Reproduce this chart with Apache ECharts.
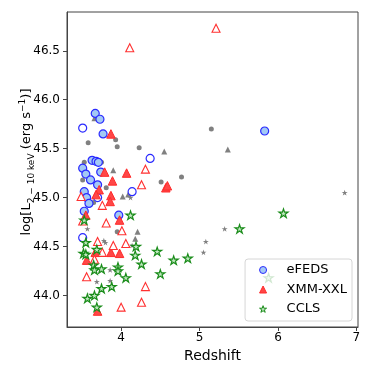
<!DOCTYPE html>
<html>
<head>
<meta charset="utf-8">
<script src="https://cdn.jsdelivr.net/npm/echarts@6/dist/echarts.min.js"></script>
<style>
  html, body { margin: 0; padding: 0; background: #fff; }
  #chart { width: 374px; height: 374px; }
</style>
</head>
<body>
<div id="chart"></div>
<script>
// [redshift, log L(2-10 keV)]
var efedsFilled = [
  [3.67, 45.86], [3.73, 45.80], [3.77, 45.65], [3.63, 45.38], [3.68, 45.37], [3.71, 45.36],
  [3.51, 45.30], [3.55, 45.24], [3.61, 45.18], [3.74, 45.26], [3.70, 45.13], [3.53, 45.06],
  [3.56, 45.00], [3.59, 44.94], [3.53, 44.86], [3.97, 44.82], [5.83, 45.68]
]
var efedsOpen = [
  [3.51, 45.71], [4.37, 45.40], [3.70, 45.00], [3.51, 44.59], [4.14, 45.06]
]
var xxlFilled = [
  [3.87, 45.65], [3.79, 45.26], [4.07, 45.25], [3.89, 45.17], [4.57, 45.10], [4.59, 45.12],
  [3.72, 45.08], [3.68, 45.03], [3.87, 45.02], [3.86, 44.96], [3.55, 44.82], [3.98, 44.77],
  [3.67, 44.44], [3.87, 44.44], [3.98, 44.43], [3.56, 44.36], [3.70, 43.84]
]
var xxlOpen = [
  [4.11, 46.53], [5.21, 46.73], [4.31, 45.29], [4.26, 45.13], [3.76, 44.92], [3.51, 44.76],
  [3.81, 44.74], [4.01, 44.66], [3.70, 44.55], [3.90, 44.51], [4.06, 44.53], [3.76, 44.44],
  [3.66, 44.37], [3.56, 44.19], [4.31, 44.09], [4.26, 43.93], [4.00, 43.88], [3.49, 45.01]
]
var cclsStars = [
  [3.53, 44.77], [4.12, 44.82], [3.55, 44.54], [4.19, 44.50], [3.52, 44.43], [3.55, 44.42],
  [3.69, 44.47], [4.18, 44.41], [4.46, 44.45], [3.65, 44.31], [3.66, 44.26], [3.75, 44.27],
  [3.96, 44.29], [3.96, 44.25], [4.26, 44.32], [4.06, 44.18], [4.50, 44.22], [4.67, 44.36],
  [4.85, 44.38], [3.75, 44.07], [3.88, 44.09], [3.57, 43.97], [3.66, 44.00], [3.69, 43.88],
  [5.51, 44.68], [6.07, 44.84], [5.88, 44.18]
]
var grayCircles = [
  [3.58, 45.56], [3.93, 45.59], [3.95, 45.52], [4.23, 45.51], [3.53, 45.36], [3.75, 45.36],
  [3.51, 45.18], [3.81, 45.10], [4.51, 45.16], [4.77, 45.21], [5.15, 45.70], [3.65, 44.95],
  [3.95, 44.65]
]
var grayTriangles = [
  [3.66, 45.81], [3.90, 45.28], [4.55, 45.47], [5.36, 45.49], [4.02, 45.01], [4.09, 45.03],
  [4.21, 44.65], [4.18, 44.58]
]
var grayStars = [
  [4.12, 45.00], [3.57, 44.68], [3.78, 44.56], [3.80, 44.54], [4.14, 44.51], [3.86, 44.26],
  [3.69, 44.14], [3.86, 44.15], [5.08, 44.55], [5.05, 44.44], [5.32, 44.68], [6.85, 45.05]
]
var xTicks = [4, 5, 6, 7]
var yTicks = [44.0, 44.5, 45.0, 45.5, 46.0, 46.5]

var FONT = 'DejaVu Sans'
var star = 'path://M100,0L122.45,69.1L195.1,69.1L136.3,111.8L158.8,180.9L100,138.2L41.2,180.9L63.7,111.8L4.9,69.1L77.55,69.1Z'

function scatter (name, data, symbol, size, fill, stroke, bw) {
  return {
    name: name,
    type: 'scatter',
    data: data,
    symbol: symbol,
    symbolSize: size,
    symbolKeepAspect: true,
    itemStyle: { color: fill, borderColor: stroke, borderWidth: bw, opacity: 1 },
    emphasis: { disabled: true },
    silent: true
  }
}

var chart = echarts.init(document.getElementById('chart'), null, { renderer: 'canvas' })
chart.setOption({
  animation: false,
  backgroundColor: '#fff',
  textStyle: { fontFamily: FONT },
  grid: { left: 67, right: 16, top: 12, bottom: 47, show: true, borderColor: '#444', borderWidth: 1 },
  xAxis: {
    type: 'value',
    min: 3.31,
    max: 7.02,
    name: 'Redshift',
    nameLocation: 'middle',
    nameGap: 19,
    nameTextStyle: { fontFamily: FONT, fontSize: 14, color: '#000', verticalAlign: 'top' },
    axisLine: { show: true, lineStyle: { color: '#444', width: 1 } },
    axisTick: { show: true, inside: false, length: 4, customValues: xTicks, lineStyle: { color: '#444' } },
    axisLabel: { customValues: xTicks, margin: 5, fontFamily: FONT, fontSize: 12, color: '#000' },
    splitLine: { show: false }
  },
  yAxis: {
    type: 'value',
    min: 43.677,
    max: 46.896,
    axisLine: { show: true, lineStyle: { color: '#444', width: 1 } },
    axisTick: { show: true, inside: false, length: 4, customValues: yTicks, lineStyle: { color: '#444' } },
    axisLabel: {
      customValues: yTicks, margin: 7, fontFamily: FONT, fontSize: 12, color: '#000',
      formatter: function (v) { return v.toFixed(1) }
    },
    splitLine: { show: false }
  },
  graphic: [{
    type: 'text',
    x: 27,
    y: 162,
    rotation: Math.PI / 2,
    style: {
      text: '{n|log[L}{s|2 − 10 keV}{n| (erg s}{p|−1}{n|)]}',
      align: 'center',
      verticalAlign: 'middle',
      fill: '#000',
      rich: {
        n: { fontFamily: FONT, fontSize: 13, lineHeight: 18, fill: '#000' },
        s: { fontFamily: FONT, fontSize: 9, lineHeight: 9, verticalAlign: 'bottom', fill: '#000' },
        p: { fontFamily: FONT, fontSize: 9, lineHeight: 9, verticalAlign: 'top', fill: '#000' }
      }
    }
  }],
  legend: {
    data: ['eFEDS', 'XMM-XXL', 'CCLS'],
    orient: 'vertical',
    right: 22,
    bottom: 53,
    itemWidth: 7,
    itemHeight: 7,
    itemGap: 5.5,
    padding: [4, 5, 5, 14],
    backgroundColor: 'rgba(255,255,255,0.8)',
    borderColor: '#d6d6d6',
    borderWidth: 1,
    borderRadius: 3,
    selectedMode: false,
    itemStyle: { borderWidth: 1 },
    textStyle: { fontFamily: FONT, fontSize: 13, color: '#000', lineHeight: 14, padding: [0, 0, 0, 15] }
  },
  series: [
    scatter('g1', grayCircles, 'circle', 5, '#808080', '#808080', 0),
    scatter('g2', grayTriangles, 'triangle', 6, '#808080', '#808080', 0),
    scatter('g3', grayStars, star, 6, '#808080', '#808080', 0),
    scatter('eFEDS', efedsFilled, 'circle', 8, '#a3c9f5', '#2a2aff', 1.2),
    scatter('eFEDS-open', efedsOpen, 'circle', 8, '#ffffff', '#2a2aff', 1.2),
    scatter('XMM-XXL', xxlFilled, 'triangle', 8.5, '#ff4747', '#ff2a2a', 1),
    scatter('XMM-XXL-open', xxlOpen, 'triangle', 8, '#ffffff', '#ff3030', 1.1),
    scatter('CCLS', cclsStars, star, 9, '#bfe8bf', '#1a8c1a', 1.2)
  ]
})
</script>
</body>
</html>
